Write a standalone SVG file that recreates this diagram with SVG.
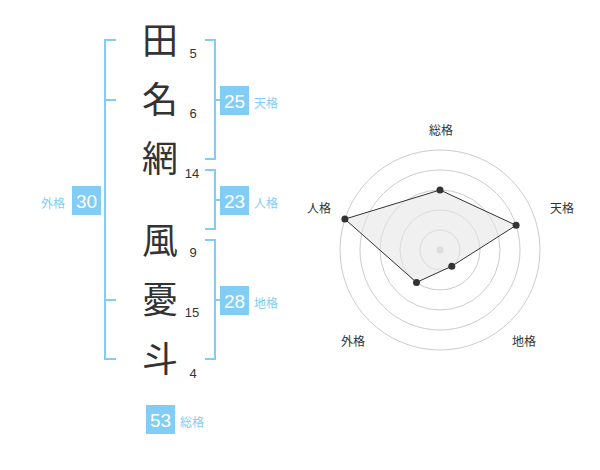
<svg xmlns="http://www.w3.org/2000/svg" width="600" height="470" viewBox="0 0 600 470">
<style>
.k{font-family:"Noto Sans CJK JP","Noto Sans CJK SC",sans-serif;font-size:36px;fill:#333;text-anchor:middle}
.n{font-family:"Liberation Sans",Arial,sans-serif;font-size:13px;fill:#333;text-anchor:middle}
.br{fill:none;stroke:#82cdf6;stroke-width:2}
.box{fill:#82cdf6}
.bt{font-family:"Liberation Sans",Arial,sans-serif;font-size:19px;fill:#fff;text-anchor:middle}
.lb{font-family:"Noto Sans CJK JP","Noto Sans CJK SC",sans-serif;font-size:12px;fill:#82cdf6;text-anchor:middle}
.rl{font-family:"Noto Sans CJK JP","Noto Sans CJK SC",sans-serif;font-size:12px;fill:#333;text-anchor:middle}
.ring{fill:none;stroke:#ccc;stroke-width:1}
.pt{fill:#333}
</style>
<rect width="600" height="470" fill="#fff"/>
<g id="name">
<text class="k" x="160" y="54">田</text>
<text class="k" x="160" y="113">名</text>
<text class="k" x="160" y="172">網</text>
<text class="k" x="160" y="254">風</text>
<text class="k" x="160" y="313">憂</text>
<text class="k" x="160" y="372">斗</text>
</g>
<g id="strokes">
<text class="n" x="193" y="58">5</text>
<text class="n" x="193" y="118">6</text>
<text class="n" x="192" y="178">14</text>
<text class="n" x="193" y="257">9</text>
<text class="n" x="192" y="317">15</text>
<text class="n" x="193" y="378">4</text>
</g>
<g id="connectors">
<path class="br" d="M116,40 H105 V359 H116 M105,100 H116 M105,300 H116"/>
<path class="br" d="M205,40 H215 V159 H205 M215,100 H220"/>
<path class="br" d="M205,170 H215 V229 H205 M215,200 H220"/>
<path class="br" d="M205,240 H215 V359 H205 M215,300 H220"/>
</g>
<g id="gaikaku">
<rect class="box" x="72" y="186" width="29" height="29"/>
<text class="bt" x="86.5" y="207.5">30</text>
<text class="lb" x="53" y="208">外格</text>
</g>
<g id="tenkaku">
<rect class="box" x="220" y="86" width="29" height="29"/>
<text class="bt" x="234.5" y="107.5">25</text>
<text class="lb" x="266" y="108">天格</text>
</g>
<g id="jinkaku">
<rect class="box" x="220" y="186" width="29" height="29"/>
<text class="bt" x="234.5" y="207.5">23</text>
<text class="lb" x="266" y="208">人格</text>
</g>
<g id="chikaku">
<rect class="box" x="220" y="286" width="29" height="29"/>
<text class="bt" x="234.5" y="307.5">28</text>
<text class="lb" x="266" y="308">地格</text>
</g>
<g id="soukaku">
<rect class="box" x="146" y="405" width="29" height="29"/>
<text class="bt" x="160.5" y="426.5">53</text>
<text class="lb" x="192" y="427">総格</text>
</g>
<g id="radar">
<circle class="ring" cx="440" cy="250" r="20"/>
<circle class="ring" cx="440" cy="250" r="40"/>
<circle class="ring" cx="440" cy="250" r="60"/>
<circle class="ring" cx="440" cy="250" r="80"/>
<circle class="ring" cx="440" cy="250" r="100"/>
<circle cx="440" cy="250" r="3.5" fill="#ccc"/>
<polygon points="440,190 516.1,225.3 451.8,266.2 416.5,282.4 344.9,219.1" fill="#e6e6e6" fill-opacity="0.6" stroke="#333" stroke-width="1"/>
<circle class="pt" cx="440" cy="190" r="3.5"/>
<circle class="pt" cx="516.1" cy="225.3" r="3.5"/>
<circle class="pt" cx="451.8" cy="266.2" r="3.5"/>
<circle class="pt" cx="416.5" cy="282.4" r="3.5"/>
<circle class="pt" cx="344.9" cy="219.1" r="3.5"/>
<text class="rl" x="441" y="135">総格</text>
<text class="rl" x="562" y="213">天格</text>
<text class="rl" x="524" y="346">地格</text>
<text class="rl" x="353" y="346">外格</text>
<text class="rl" x="319" y="213">人格</text>
</g>
</svg>
